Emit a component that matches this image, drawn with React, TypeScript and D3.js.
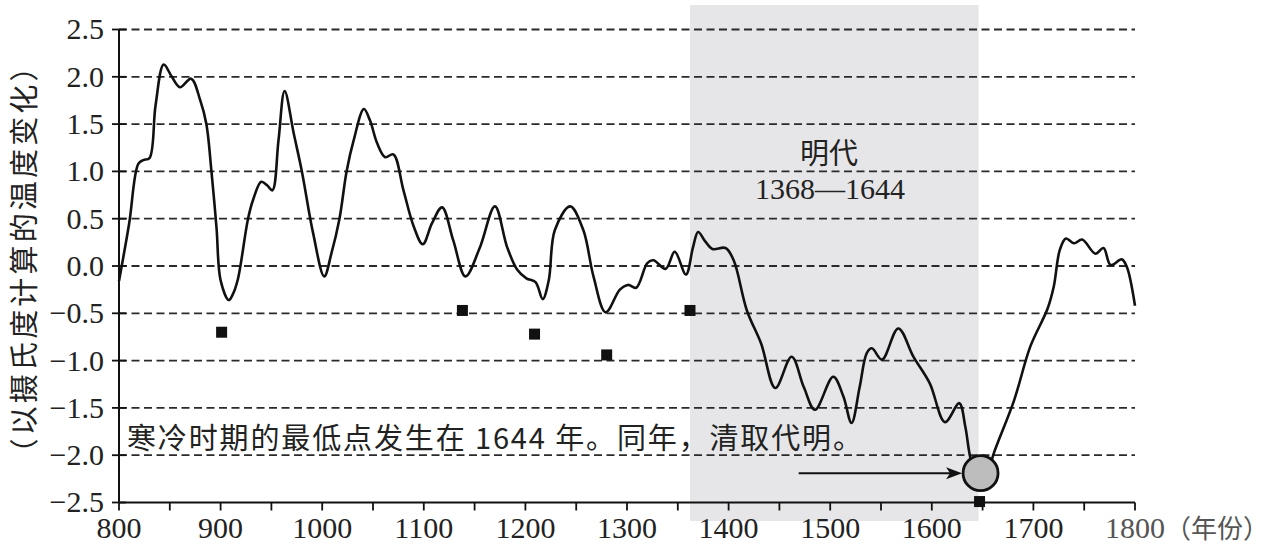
import React from "react";
import * as d3 from "d3";

// ---- data ----
const years = [800,810,819,824,830,836,844,852,860,871,880,886,891,896,900,908,912,917,927,932,940,946,951,957,963,972,980,991,1002,1009,1017,1024,1031,1041,1047,1054,1062,1070,1080,1090,1099,1108,1118,1129,1141,1155,1170,1182,1192,1201,1210,1217,1223,1229,1244,1257,1267,1279,1293,1301,1309,1320,1326,1338,1347,1358,1365,1370,1377,1384,1397,1405,1418,1432,1446,1462,1474,1485,1503,1513,1521,1529,1536,1541,1551,1567,1582,1598,1613,1627,1633,1638,1646,1653,1661,1681,1697,1714,1720,1726,1732,1740,1748,1761,1769,1776,1787,1792,1800];
const temps = [-0.16,0.45,1.08,1.12,1.14,1.7,2.13,2.0,1.89,1.98,1.75,1.5,1.0,0.4,-0.15,-0.36,-0.3,-0.14,0.5,0.7,0.89,0.85,0.8,1.33,1.85,1.4,1.0,0.35,-0.11,0.13,0.5,1.0,1.33,1.66,1.54,1.3,1.15,1.18,0.8,0.42,0.23,0.45,0.62,0.27,-0.11,0.19,0.63,0.2,-0.04,-0.13,-0.17,-0.35,-0.15,0.38,0.63,0.38,-0.11,-0.49,-0.25,-0.2,-0.23,0.03,0.06,-0.03,0.15,-0.09,0.2,0.36,0.26,0.18,0.19,0.06,-0.47,-0.82,-1.29,-0.96,-1.28,-1.52,-1.17,-1.38,-1.66,-1.28,-0.92,-0.87,-0.99,-0.66,-0.96,-1.24,-1.65,-1.45,-1.7,-2.03,-2.3,-2.25,-1.98,-1.42,-0.85,-0.45,-0.22,0.17,0.29,0.24,0.28,0.13,0.19,0.01,0.07,-0.01,-0.42];

const markerYears = [901, 1138, 1209, 1280, 1362, 1647];
const markerTemps = [-0.70, -0.47, -0.72, -0.94, -0.47, -2.49];

const yTicks = [2.5, 2.0, 1.5, 1.0, 0.5, 0.0, -0.5, -1.0, -1.5, -2.0, -2.5];
const gridValues = [2.5, 2.0, 1.5, 1.0, 0.5, 0.0, -0.5, -1.0, -1.5, -2.0];
const xMajorTicks = [800, 900, 1000, 1100, 1200, 1300, 1400, 1500, 1600, 1700];
const xAllTicks = d3.range(800, 1801, 50);
const lastTickLabel = "1800";
const xUnit = "（年份）";

const mingBand = [1362, 1646];
const mingName = "明代";
const mingSpan = "1368—1644";
const lowPoint = { year: 1648, temp: -2.19 };
const arrowStartYear = 1469;

const yTitle = "（以摄氏度计算的温度变化）";
const note = "寒冷时期的最低点发生在 1644 年。同年，清取代明。";

const serif = "Liberation Serif, Tinos, Times New Roman, DejaVu Serif, serif";
const cjk = "Noto Sans CJK SC, Noto Sans, sans-serif";

export default function App() {
  const W = 1280, H = 551;
  const x = d3.scaleLinear().domain([800, 1800]).range([119, 1135]);
  const y = d3.scaleLinear().domain([-2.5, 2.5]).range([502.5, 29.5]);
  const pts: [number, number][] = years.map((yr, i) => [yr, temps[i]]);
  const line = d3
    .line<[number, number]>()
    .x((d) => x(d[0]))
    .y((d) => y(d[1]))
    .curve(d3.curveCatmullRom.alpha(0.5));

  const fmt = (v: number) => (v < 0 ? "\u2212" : "") + Math.abs(v).toFixed(1);
  const cx = x(lowPoint.year), cy = y(lowPoint.temp), r = 17.5;
  const ax0 = x(arrowStartYear);
  const tipX = cx - r - 1;

  return (
    <svg width={W} height={H} style={{ position: "absolute", left: 0, top: 0, background: "#fff" }}>
      {/* Ming band */}
      <rect x={x(mingBand[0])} y={5} width={x(mingBand[1]) - x(mingBand[0])} height={516} fill="#e6e6e8" />

      {/* grid */}
      {gridValues.map((v) => (
        <line key={v} x1={x(800)} x2={x(1800)} y1={y(v)} y2={y(v)} stroke="#2a2a2a" strokeWidth={1.8} strokeDasharray="8,4.5" />
      ))}

      {/* axes */}
      <line x1={x(800)} x2={x(800)} y1={y(2.5)} y2={y(-2.5)} stroke="#111" strokeWidth={2} />
      <line x1={x(800)} x2={x(1800)} y1={y(-2.5)} y2={y(-2.5)} stroke="#111" strokeWidth={2} />
      {yTicks.map((v) => (
        <g key={v}>
          <line x1={x(800) - 7} x2={x(800) + 7} y1={y(v)} y2={y(v)} stroke="#111" strokeWidth={1.8} />
          <text x={104} y={y(v)} dy="0.33em" textAnchor="end" style={{ fontFamily: serif }} fontSize={30} fill="#222">
            {fmt(v)}
          </text>
        </g>
      ))}
      {xAllTicks.map((t) => (
        <line key={t} x1={x(t)} x2={x(t)} y1={y(-2.5)} y2={y(-2.5) + 8} stroke="#111" strokeWidth={1.8} />
      ))}
      {xMajorTicks.map((t) => (
        <text key={t} x={x(t)} y={538} textAnchor="middle" style={{ fontFamily: serif }} fontSize={30} fill="#222">
          {t}
        </text>
      ))}
      <text x={x(1800) - 30} y={538} style={{ fontFamily: serif }} fontSize={30} fill="#555">
        {lastTickLabel}
        <tspan style={{ fontFamily: cjk }} fontSize={26}>{xUnit}</tspan>
      </text>

      {/* y title */}
      <text
        transform={`translate(35,260) rotate(-90)`}
        textAnchor="middle"
        style={{ fontFamily: cjk }}
        fontSize={29}
        fill="#222"
        textLength={415}
        lengthAdjust="spacing"
      >
        {yTitle}
      </text>

      {/* curve */}
      <path d={line(pts) || ""} fill="none" stroke="#111" strokeWidth={2.6} strokeLinejoin="round" />

      {/* markers */}
      {markerYears.map((yr, i) => (
        <rect key={yr} x={x(yr) - 5.5} y={y(markerTemps[i]) - 5.5} width={11} height={11} fill="#111" />
      ))}

      {/* low point circle and arrow */}
      <circle cx={cx} cy={cy} r={r} fill="#bdbdbd" stroke="#111" strokeWidth={2.8} />
      <line x1={ax0} x2={tipX - 10} y1={cy} y2={cy} stroke="#111" strokeWidth={2} />
      <path d={`M${tipX},${cy} L${tipX - 16},${cy - 6} L${tipX - 12},${cy} L${tipX - 16},${cy + 6} Z`} fill="#111" />

      {/* Ming label */}
      <text x={829} y={164} textAnchor="middle" style={{ fontFamily: cjk }} fontSize={29} fill="#222">
        {mingName}
      </text>
      <text x={830} y={199} textAnchor="middle" style={{ fontFamily: serif }} fontSize={30} fill="#222">
        {mingSpan}
      </text>

      {/* note */}
      <text x={127} y={449} style={{ fontFamily: cjk }} fontSize={29} fill="#222" textLength={735} lengthAdjust="spacing">
        {note}
      </text>
    </svg>
  );
}
